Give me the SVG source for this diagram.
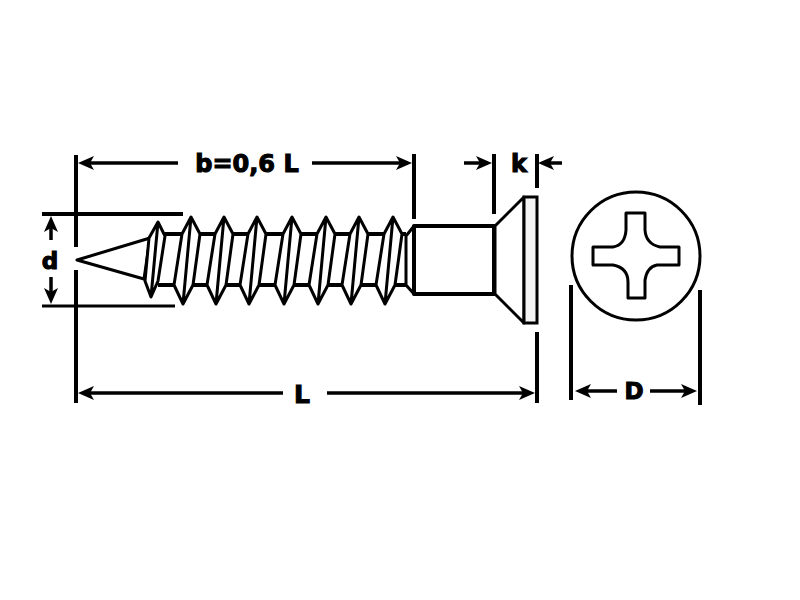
<svg xmlns="http://www.w3.org/2000/svg" xmlns:xlink="http://www.w3.org/1999/xlink" width="800" height="600" viewBox="0 0 800 600">
<style>
.dim{stroke:#000;stroke-width:4;fill:none}
.ar{stroke:#000;stroke-width:3.5;fill:none;marker-end:url(#head)}
.o{stroke:#000;stroke-width:3;fill:#fff;stroke-linejoin:round}
.n{stroke:#000;stroke-width:4;fill:none}
.t{font-family:"DejaVu Sans",sans-serif;font-weight:bold;fill:#000;stroke:#000;stroke-width:1.1;text-anchor:middle}
</style>
<defs>
<marker id="head" markerUnits="userSpaceOnUse" markerWidth="17" markerHeight="16" viewBox="0 0 17 16" refX="6" refY="8" orient="auto"><path d="M16 8L0 1L4 8L0 15Z" fill="#000"/></marker>
<path id="th" class="o" d="M0 217L9 234L2 285L-8 304L-17 285L-9 234ZM0 217L-8 304"/>
</defs>
<rect width="800" height="600" fill="#fff"/>
<g id="screw">
<path class="o" d="M77 260L150 238L144 279Z"/>
<path class="n" d="M165 234H406M158 285H406"/>
<path class="o" d="M158 222L165 236L158 281L151 297L145 281L149 238ZM158 222L151 297"/>
<use xlink:href="#th" href="#th" x="191"/>
<use xlink:href="#th" href="#th" x="224"/>
<use xlink:href="#th" href="#th" x="257"/>
<use xlink:href="#th" href="#th" x="292"/>
<use xlink:href="#th" href="#th" x="326"/>
<use xlink:href="#th" href="#th" x="359"/>
<use xlink:href="#th" href="#th" x="393"/>
<path class="o" d="M406 236L414 226V294L406 285Z"/>
<rect class="o" style="stroke-width:4" x="414" y="226" width="80" height="68"/>
<path class="o" d="M495 226L524 197V323L495 294Z"/>
<rect x="524" y="197" width="13" height="126" fill="#f4f4f4" stroke="#000" stroke-width="3"/>
</g>
<g id="head-view">
<circle class="o" cx="636" cy="256" r="64"/>
<path class="o" d="M626 213V230Q625 245 613 247H593V265H613Q628 268 628 282V298H645V280Q647 267 657 265H679V247H660Q646 244 645 230V213Z"/>
</g>
<g id="connectors">
<path class="dim" d="M76 155V247M76 270V403M414 154V219M494 154V214M537 154V188M537 332V403M571 285V400M700 290V405"/>
<path class="dim" d="M42 214H183"/>
<path class="dim" style="stroke-width:3" d="M42 306H175"/>
<path class="ar" d="M178 163H88"/>
<path class="ar" d="M312 163H402"/>
<path class="ar" d="M464 163H482"/>
<path class="ar" d="M562 163H548"/>
<path class="ar" d="M51 240V226"/>
<path class="ar" d="M51 277V294"/>
<path class="ar" d="M283 393H88"/>
<path class="ar" d="M327 393H525"/>
<path class="ar" d="M617 391H585"/>
<path class="ar" d="M650 391H687"/>
</g>
<g id="labels">
<text class="t" x="247" y="172" font-size="24">b=0,6 L</text>
<text class="t" x="519" y="172" font-size="24">k</text>
<text class="t" x="50" y="269" font-size="23">d</text>
<text class="t" x="302" y="403" font-size="25">L</text>
<text class="t" x="634" y="399" font-size="23">D</text>
</g>
</svg>
